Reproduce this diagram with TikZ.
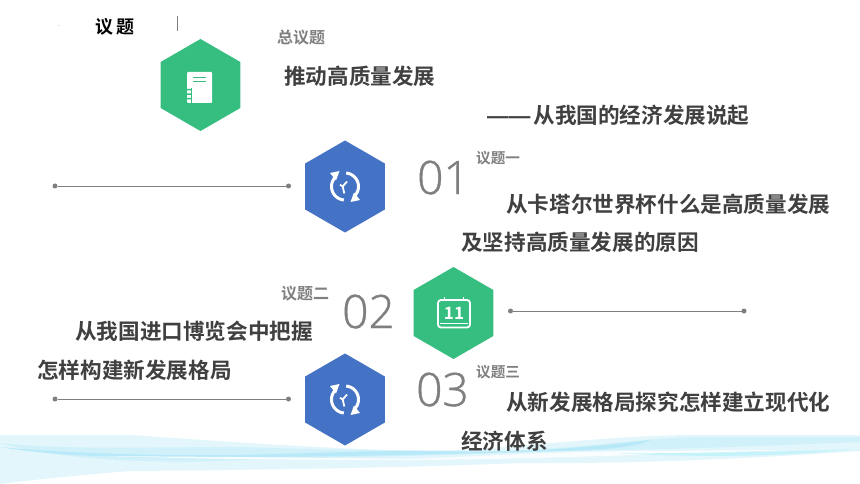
\documentclass[tikz,border=0pt]{standalone}
\usepackage{fontspec}
\usetikzlibrary{shapes.geometric,arrows.meta}
\newfontfamily\cjkb{Noto Sans CJK SC Bold}
\newfontfamily\numf[FakeBold=0.8]{Open Sans Light}
\newfontfamily\dashf{Liberation Sans Bold}
\definecolor{hgreen}{HTML}{36BD80}
\definecolor{hblue}{HTML}{4472C4}
\definecolor{dtext}{HTML}{404040}
\definecolor{gtext}{HTML}{7F7F7F}
\definecolor{lgrey}{HTML}{7F7F7F}
\definecolor{bandl}{HTML}{E2F6FC}
\definecolor{bandm}{HTML}{D0F0FA}
\definecolor{bandd}{HTML}{B8E9F8}
\definecolor{bandc}{HTML}{C4F4FA}
\tikzset{
 x=1pt,y=-1pt,
 hexa/.style={regular polygon,regular polygon sides=6,shape border rotate=30,minimum size=92pt,inner sep=0pt,outer sep=0pt,draw=none},
 body/.style={anchor=base west,inner sep=0pt,text=dtext,font=\fontsize{21.6pt}{21.6pt}\cjkb},
 lab/.style={anchor=base west,inner sep=0pt,text=gtext,font=\fontsize{16pt}{16pt}\cjkb},
 labs/.style={anchor=base west,inner sep=0pt,text=gtext,font=\fontsize{14.6pt}{14.6pt}\cjkb},
 num/.style={anchor=base west,inner sep=0pt,text=gtext,font=\fontsize{46pt}{46pt}\numf},
 dot/.style={circle,fill=lgrey,minimum size=5pt,inner sep=0pt,outer sep=0pt},
 conn/.style={draw=lgrey,line width=0.8pt},
}
\begin{document}
\begin{tikzpicture}
\useasboundingbox (0,0) rectangle (860,484);
\fill[white] (0,0) rectangle (860,484);
% wave band
\fill[bandl] (0,435) -- (130,435) .. controls (220,441) and (320,449) .. (430,451)
  .. controls (520,449) and (600,435) .. (700,435) -- (860,435) -- (860,451)
  .. controls (760,458) and (640,464) .. (520,463)
  .. controls (400,468) and (250,470) .. (130,471) .. controls (80,475) and (30,480) .. (0,484) -- cycle;
\fill[bandm] (0,443) .. controls (60,450) and (150,447) .. (240,447)
  .. controls (330,450) and (400,451) .. (500,451) .. controls (580,449) and (640,438) .. (700,437)
  -- (860,437) -- (860,442) .. controls (760,446) and (660,450) .. (560,451)
  .. controls (450,455) and (380,457) .. (260,459) .. controls (150,466) and (50,458) .. (0,443) -- cycle;
\fill[bandd] (0,447) .. controls (40,451) and (120,456) .. (230,455)
  .. controls (300,454) and (380,450) .. (440,451) .. controls (500,453) and (560,451) .. (650,440)
  .. controls (640,446) and (610,450) .. (560,451)
  .. controls (450,454) and (380,456) .. (260,457) .. controls (150,460) and (50,456) .. (0,447) -- cycle;
\fill[white,opacity=.85] (100,456) .. controls (200,457) and (300,457) .. (390,459)
  .. controls (450,459) and (520,452) .. (640,451) -- (790,450)
  .. controls (650,454) and (520,460) .. (400,459.8)
  .. controls (300,460) and (200,459) .. (100,456) -- cycle;
\fill[bandc] (620,453.5) .. controls (700,453) and (780,452) .. (860,449)
  .. controls (780,456) and (720,458) .. (620,453.5) -- cycle;
% header
\node[anchor=base west,inner sep=0pt,font=\fontsize{18pt}{18pt}\cjkb] (title) at (95,34) {议\hspace{3pt}题};
\coordinate (ta) at (177.5,16);
\coordinate (tb) at (177.5,31);
\draw[lgrey,line width=.8pt] (ta) -- (tb);
\fill[lgrey] (59,25.5) circle (.4);
% connectors
\node[dot] (a1) at (55,186) {};
\node[dot] (a2) at (288.5,186) {};
\node[dot] (b1) at (510.5,311) {};
\node[dot] (b2) at (744,311) {};
\node[dot] (c1) at (55,399) {};
\node[dot] (c2) at (288.5,399) {};
\draw[conn] (a1) -- (a2);
\draw[conn] (b1) -- (b2);
\draw[conn] (c1) -- (c2);
% hexagons
\node[hexa,fill=hgreen] (h0) at (200.5,85) {};
\node[hexa,fill=hblue] (h1) at (345,186.5) {};
\node[hexa,fill=hgreen] (h2) at (453.5,313) {};
\node[hexa,fill=hblue] (h3) at (345,399.5) {};
% notebook icon
\fill[white,rounded corners=1pt] (187,72) rectangle (212,103);
\draw[hgreen,line width=1pt] (193,78) -- (206,78) (193,82) -- (206,82);
\fill[hgreen] (187,89) rectangle (191,90.5) (187,93.5) rectangle (191,95) (187,98) rectangle (191,99.5);
\draw[hgreen,line width=.8pt] (191.3,88) -- (191.3,103);
% refresh icons
\foreach \c in {h1,h3}{
 \begin{scope}[shift={(\c)}]
  \draw[white,line width=3pt] plot[smooth,domain=-48:85,samples=15,variable=\t] ({13.5*cos(\t)},{-13.5*sin(\t)});
  \draw[white,line width=3pt] plot[smooth,domain=132:265,samples=15,variable=\t] ({13.5*cos(\t)},{-13.5*sin(\t)});
  \fill[white] (-15,-13.5) -- (-5.5,-15.5) -- (-9,-6) -- cycle;
  \fill[white] (15,13.5) -- (5.5,15.5) -- (9,6) -- cycle;
  \draw[white,line width=1.8pt] (2,-5) -- (-2.3,0) (-5,-1.8) -- (-2.3,0) -- (-0.7,7);
 \end{scope}}
% calendar icon
\draw[white,line width=1.8pt,rounded corners=3pt] (438,300) rectangle (470,327.5);
\draw[white,line width=1.6pt] (444.5,297) -- (444.5,301) (463.5,297) -- (463.5,301);
\draw[white,line width=.7pt] (440,323) -- (468,323);
\node[inner sep=0pt,text=white,font=\fontsize{17pt}{17pt}\cjkb] (cal) at (454,313) {11};
% texts
\node[lab] (t0) at (277,44) {总议题};
\node[body] (t1) at (284,85) {推动高质量发展};
\node[body] (t2) at (487,124) {{\dashf ——}\hspace{3pt}从我国的经济发展说起};
\node[num] (n1) at (417,194) {01};
\node[labs] (l1) at (476,164) {议题一};
\node[body] (t3) at (506,212) {从卡塔尔世界杯什么是高质量发展};
\node[body] (t4) at (461,251) {及坚持高质量发展的原因};
\node[lab] (l2) at (281,299) {议题二};
\node[num] (n2) at (342,328) {02};
\node[body] (t5) at (75,339) {从我国进口博览会中把握};
\node[body] (t6) at (37,378) {怎样构建新发展格局};
\node[num] (n3) at (416,406) {03};
\node[labs] (l3) at (476,377) {议题三};
\node[body] (t7) at (506,410) {从新发展格局探究怎样建立现代化};
\node[body] (t8) at (461,449) {经济体系};
\end{tikzpicture}
\end{document}
